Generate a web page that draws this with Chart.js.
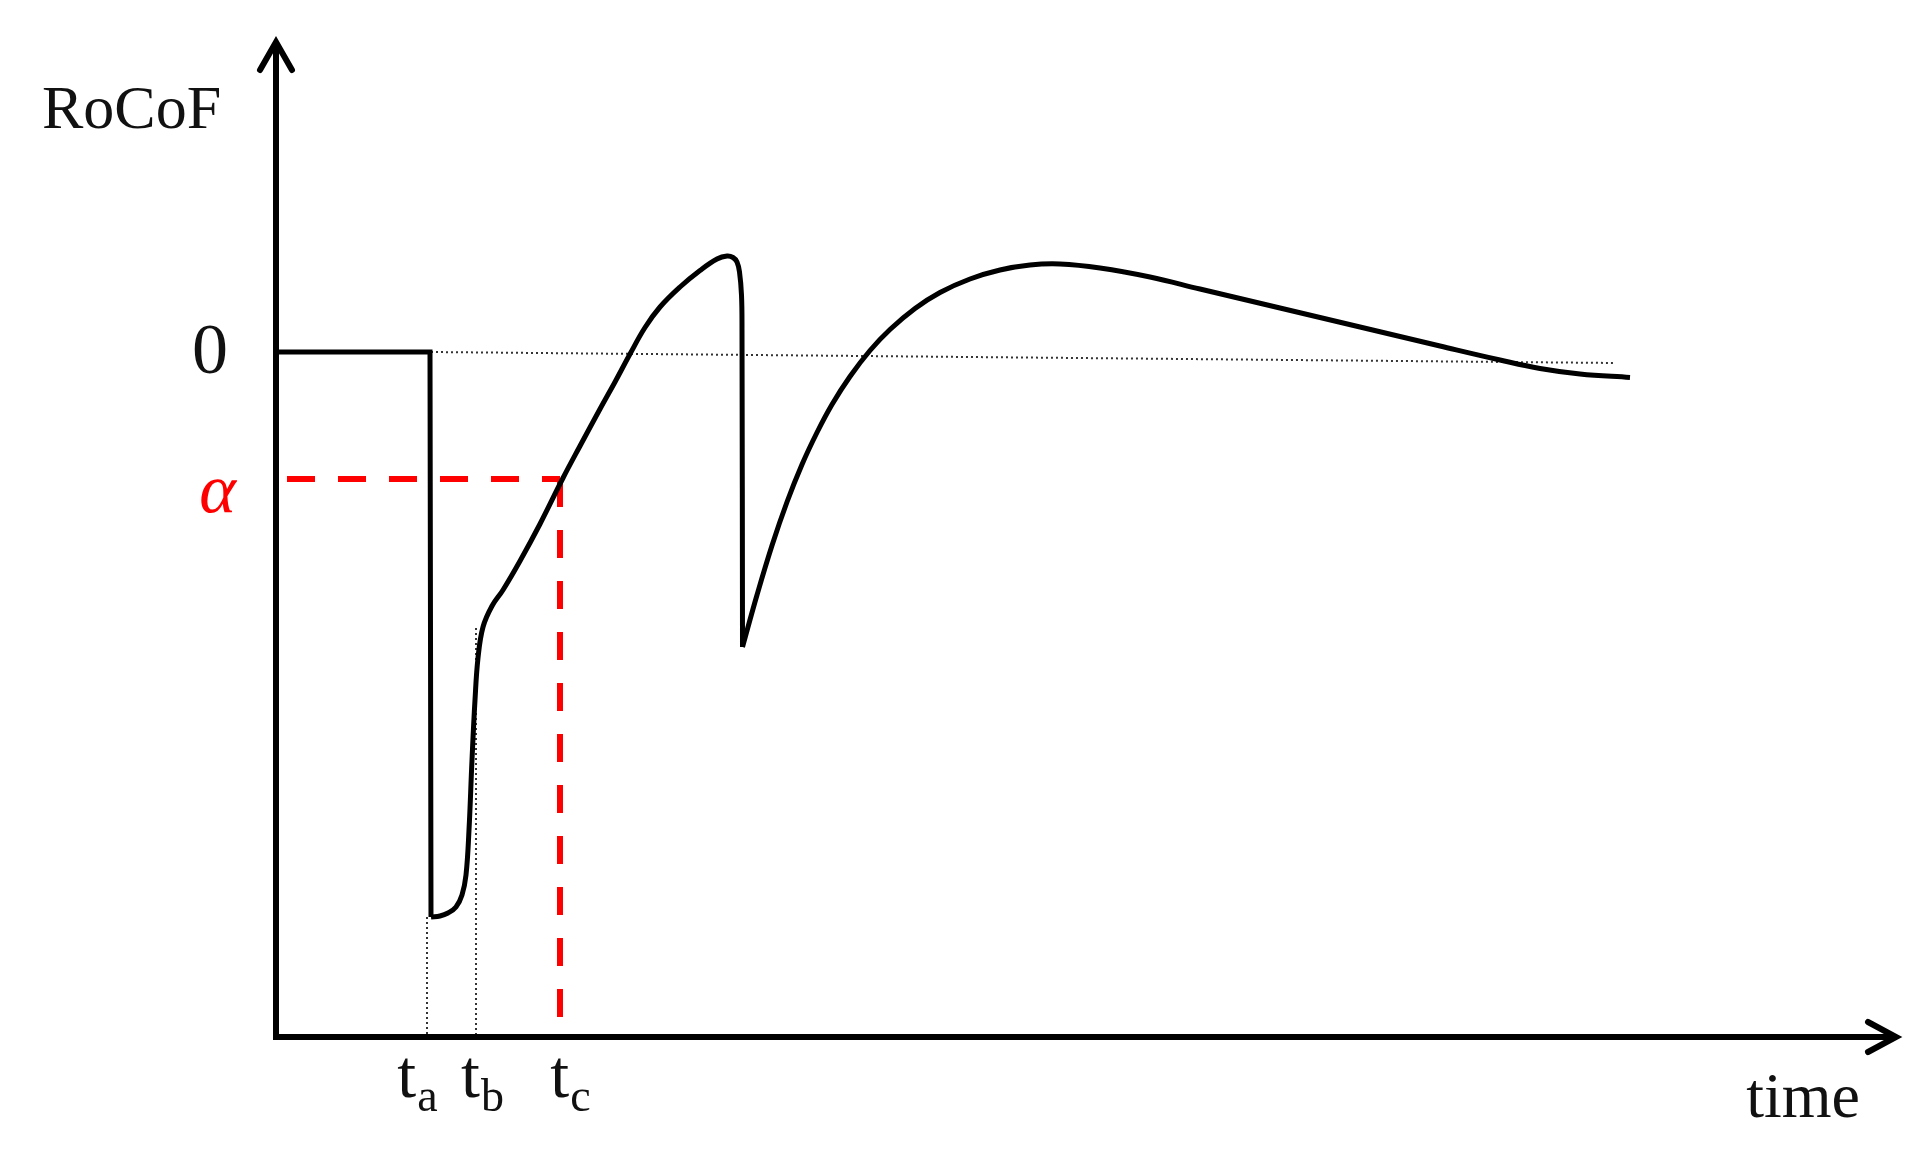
<!DOCTYPE html>
<html>
<head>
<meta charset="utf-8">
<script src="https://cdn.jsdelivr.net/npm/chart.js@4.4.1/dist/chart.umd.min.js"></script>
<style>
  html, body { margin: 0; padding: 0; background: #fff; }
  #wrap { width: 1919px; height: 1158px; }
</style>
</head>
<body>
<div id="wrap"><canvas id="rocofChart" width="1919" height="1158"></canvas></div>
<script>
// RoCoF response (arbitrary units, zero = pre-event level)
// part 1: flat pre-event level and the step down
const stepTime = [0, 15.4, 15.5];
const stepVals = [0, 0, -56.5];
// part 2: first recovery swing and second drop
const swingTime = [15.5, 16.4, 17.2, 18.0, 18.6, 19.0, 19.3, 19.6, 19.9, 20.2, 20.7, 21.6, 22.7,
  24.4, 26.4, 28.7, 30.4, 32.4, 33.9, 35.4, 36.9, 38.4, 40.4, 42.4, 44.1, 45.1, 45.7,
  46.1, 46.35, 46.55, 46.6, 46.65];
const swingVals = [-56.5, -56.4, -56.1, -55.5, -54.3, -52.3, -47.8, -40.8, -34.8, -30.6, -27.5, -25.4, -23.8,
  -20.9, -17.2, -12.6, -9.4, -5.7, -3.0, -0.2, 2.45, 4.5, 6.5, 8.15, 9.3, 9.6, 9.45,
  9.0, 8.0, 5.7, 2.2, -29.5];
// part 3: recovery after the second drop
const recoveryTime = [46.65, 48.1, 49.6, 51.1, 52.6, 54.1, 55.6, 57.4, 59.4, 61.4, 63.9, 66.4, 69.4, 72.4,
  75.4, 78.4, 82.4, 87.4, 92.4, 100.4, 108.4, 116.4, 122.4, 126.4, 130.4, 135.4];
const recoveryVals = [-29.5, -24.3, -19.35, -15.0, -11.25, -8.05, -5.25, -2.45, 0.15, 2.25, 4.35, 5.95, 7.3, 8.2,
  8.7, 8.8, 8.4, 7.5, 6.3, 4.4, 2.5, 0.6, -0.8, -1.65, -2.2, -2.55];

// zero reference (dotted), slightly sloping as in the sketch
const zeroRefTime = [15.5, 133.9];
const zeroRefVals = [0, -1.1];

// threshold alpha and the marked instants
const alphaLevel = -12.7;
const markerNames = ['a', 'b', 'c'];
const markerTimes = [15.1, 20.0, 28.4];
const markerTops = [-56.5, -27.6, -12.7];

const xMin = 0, xMax = 162.2, yMin = -68.5, yMax = 31.2, redStart = 1.1, redStop = -66.8;

function pts(xs, ys) { return xs.map((x, i) => ({ x: x, y: ys[i] })); }

const serif = '"Liberation Serif", "DejaVu Serif", serif';

const sketchAxes = {
  id: 'sketchAxes',
  afterDatasetsDraw(chart) {
    const ctx = chart.ctx, a = chart.chartArea;
    const sx = chart.scales.x, sy = chart.scales.y;
    ctx.save();
    ctx.strokeStyle = '#000';
    ctx.lineWidth = 6;
    ctx.lineCap = 'butt';
    // y axis
    ctx.beginPath();
    ctx.moveTo(a.left, a.bottom + 3);
    ctx.lineTo(a.left, a.top + 2);
    ctx.stroke();
    // x axis
    ctx.beginPath();
    ctx.moveTo(a.left - 3, a.bottom);
    ctx.lineTo(a.right - 2, a.bottom);
    ctx.stroke();
    // arrow heads
    ctx.lineCap = 'round';
    ctx.lineJoin = 'miter';
    ctx.beginPath();
    ctx.moveTo(a.left - 16, a.top + 30);
    ctx.lineTo(a.left, a.top + 2);
    ctx.lineTo(a.left + 16, a.top + 30);
    ctx.stroke();
    ctx.beginPath();
    ctx.moveTo(a.right - 30, a.bottom - 15);
    ctx.lineTo(a.right - 2, a.bottom);
    ctx.lineTo(a.right - 30, a.bottom + 15);
    ctx.stroke();

    // texts
    ctx.fillStyle = '#111';
    ctx.textBaseline = 'alphabetic';
    ctx.textAlign = 'left';
    ctx.font = '62px ' + serif;
    ctx.fillText('RoCoF', a.left - 234, a.top + 88);

    ctx.textAlign = 'right';
    ctx.font = '72px ' + serif;
    ctx.fillText('0', a.left - 48, sy.getPixelForValue(0) + 21);

    ctx.fillStyle = '#ff0000';
    ctx.font = 'italic 70px ' + serif;
    ctx.fillText('\u03b1', a.left - 40, sy.getPixelForValue(alphaLevel) + 33);

    ctx.fillStyle = '#111';
    const nudge = [-10, 6, 10];
    markerNames.forEach((n, i) => {
      const px = sx.getPixelForValue(markerTimes[i]) + nudge[i];
      ctx.font = '68px ' + serif;
      const tw = ctx.measureText('t').width;
      ctx.font = '46px ' + serif;
      const sw = ctx.measureText(n).width;
      const left = px - (tw + sw) / 2;
      ctx.textAlign = 'left';
      ctx.font = '68px ' + serif;
      ctx.fillText('t', left, a.bottom + 60);
      ctx.font = '46px ' + serif;
      ctx.fillText(n, left + tw + 1, a.bottom + 74);
    });

    ctx.textAlign = 'right';
    ctx.font = '64px ' + serif;
    ctx.fillText('time', a.right - 38, a.bottom + 80);
    ctx.restore();
  }
};

const smoothStyle = { borderColor: '#000', borderWidth: 5, tension: 0.4, clip: false };
const dotStyle = { borderColor: '#333', borderWidth: 2, borderDash: [2, 3], tension: 0, clip: false };
const redStyle = { borderColor: '#ff0000', borderWidth: 6, borderDash: [28, 23], tension: 0, clip: false };

const datasets = [
  { data: pts(stepTime, stepVals), borderColor: '#000', borderWidth: 5, tension: 0, clip: false },
  Object.assign({ data: pts(swingTime, swingVals) }, smoothStyle),
  Object.assign({ data: pts(recoveryTime, recoveryVals) }, smoothStyle),
  Object.assign({ data: pts(zeroRefTime, zeroRefVals) }, dotStyle),
  Object.assign({ data: [{ x: redStart, y: alphaLevel }, { x: markerTimes[2], y: alphaLevel }] }, redStyle),
  Object.assign({ data: [{ x: markerTimes[2], y: alphaLevel }, { x: markerTimes[2], y: redStop }] }, redStyle)
];
markerTimes.slice(0, 2).forEach((t, i) => {
  datasets.push(Object.assign({ data: [{ x: t, y: markerTops[i] }, { x: t, y: yMin }] }, dotStyle));
});

new Chart(document.getElementById('rocofChart'), {
  type: 'line',
  data: { datasets: datasets },
  options: {
    responsive: false,
    animation: false,
    devicePixelRatio: 1,
    layout: { padding: { left: 276, right: 21, top: 40, bottom: 121 } },
    elements: { point: { radius: 0 }, line: { borderCapStyle: 'butt', borderJoinStyle: 'miter', capBezierPoints: false } },
    scales: {
      x: { type: 'linear', min: xMin, max: xMax, display: false },
      y: { type: 'linear', min: yMin, max: yMax, display: false }
    },
    plugins: { legend: { display: false }, tooltip: { enabled: false } }
  },
  plugins: [sketchAxes]
});
</script>
</body>
</html>
